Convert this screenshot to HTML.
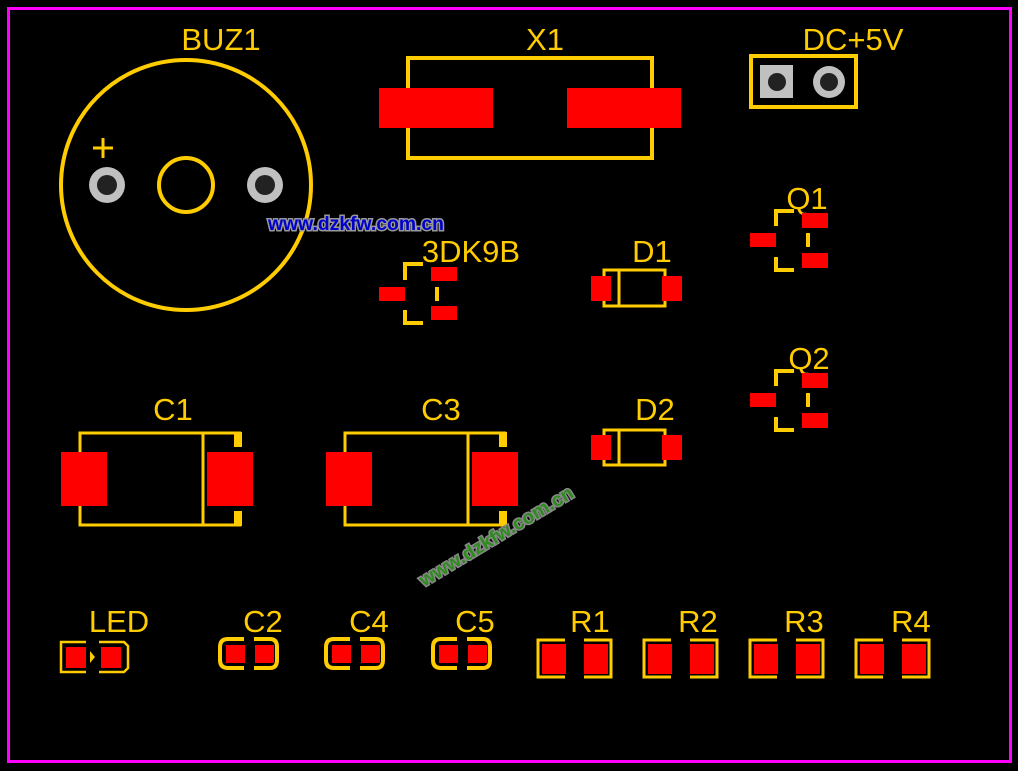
<!DOCTYPE html>
<html><head><meta charset="utf-8"><style>
html,body{margin:0;padding:0;background:#000;width:1018px;height:771px;overflow:hidden}
text{font-family:"Liberation Sans",sans-serif}
</style></head><body>
<svg width="1018" height="771" viewBox="0 0 1018 771" xmlns="http://www.w3.org/2000/svg">
<rect width="1018" height="771" fill="#000"/>
<rect x="8.5" y="8.5" width="1002" height="753" fill="none" stroke="#FF00FF" stroke-width="3"/>
<g fill="#FFCC00" font-size="31">
<text x="221" y="50" text-anchor="middle">BUZ1</text>
<text x="545" y="50" text-anchor="middle">X1</text>
<text x="853" y="50" text-anchor="middle">DC+5V</text>
<text x="807" y="209" text-anchor="middle">Q1</text>
<text x="471" y="262" text-anchor="middle">3DK9B</text>
<text x="652" y="262" text-anchor="middle">D1</text>
<text x="809" y="369" text-anchor="middle">Q2</text>
<text x="173" y="420" text-anchor="middle">C1</text>
<text x="441" y="420" text-anchor="middle">C3</text>
<text x="655" y="420" text-anchor="middle">D2</text>
<text x="119" y="632" text-anchor="middle">LED</text>
<text x="263" y="632" text-anchor="middle">C2</text>
<text x="369" y="632" text-anchor="middle">C4</text>
<text x="475" y="632" text-anchor="middle">C5</text>
<text x="590" y="632" text-anchor="middle">R1</text>
<text x="698" y="632" text-anchor="middle">R2</text>
<text x="804" y="632" text-anchor="middle">R3</text>
<text x="911" y="632" text-anchor="middle">R4</text>
</g>
<g fill="none" stroke="#FFCC00" stroke-width="4">
<circle cx="186" cy="185" r="125"/>
<circle cx="186" cy="185" r="27"/>
<path d="M93 148h20M103 138v20" stroke-width="3"/>
<path d="M408 88V58H652V88M408 128V158H652V128"/>
<rect x="751" y="56" width="105" height="51"/>
<path d="M776 226V211H794M776 257V270H794M808 233V247"/>
<path d="M776 386V371H794M776 417V430H794M808 393V407"/>
<path d="M405 280V264H423M405 310V323H423M437 287V301"/>
<path d="M604 276V270H665V276M604 301V306H665V301M619 270V306" stroke-width="3"/>
<path d="M604 435V430H665V435M604 460V465H665V460M619 430V465" stroke-width="3"/>
<path d="M80 452V433H241M80 506V525H241M203 433V525" stroke-width="3"/>
<path d="M345 452V433H506M345 506V525H506M468 433V525" stroke-width="3"/>
<path d="M86 642H61V672H86M99 642H124L128 646V668L124 672H99" stroke-width="2.5"/>
<path d="M244 639H228Q220 639 220 647V660Q220 668 228 668H244M254 639H270Q277 639 277 647V660Q277 668 270 668H254" stroke-width="4"/>
<path d="M350 639H334Q326 639 326 647V660Q326 668 334 668H350M360 639H376Q383 639 383 647V660Q383 668 376 668H360" stroke-width="4"/>
<path d="M457 639H441Q433 639 433 647V660Q433 668 441 668H457M467 639H483Q490 639 490 647V660Q490 668 483 668H467" stroke-width="4"/>
<path d="M565 640H538V677H565M584 640H611V677H584" stroke-width="3"/>
<path d="M671 640H644V677H671M690 640H717V677H690" stroke-width="3"/>
<path d="M777 640H750V677H777M796 640H823V677H796" stroke-width="3"/>
<path d="M883 640H856V677H883M902 640H929V677H902" stroke-width="3"/>
</g>
<g fill="#FFCC00">
<rect x="234" y="432" width="8" height="15"/><rect x="234" y="511" width="8" height="15"/>
<rect x="499" y="432" width="8" height="15"/><rect x="499" y="511" width="8" height="15"/>
<path d="M90 651L95 657L90 663Z"/>
</g>
<g fill="#FF0000">
<rect x="379" y="88" width="114" height="40"/><rect x="567" y="88" width="114" height="40"/>
<rect x="750" y="233" width="26" height="14"/><rect x="802" y="213" width="26" height="15"/><rect x="802" y="253" width="26" height="15"/>
<rect x="750" y="393" width="26" height="14"/><rect x="802" y="373" width="26" height="15"/><rect x="802" y="413" width="26" height="15"/>
<rect x="379" y="287" width="26" height="14"/><rect x="431" y="267" width="26" height="14"/><rect x="431" y="306" width="26" height="14"/>
<rect x="591" y="276" width="20" height="25"/><rect x="662" y="276" width="20" height="25"/>
<rect x="591" y="435" width="20" height="25"/><rect x="662" y="435" width="20" height="25"/>
<rect x="61" y="452" width="46" height="54"/><rect x="207" y="452" width="46" height="54"/>
<rect x="326" y="452" width="46" height="54"/><rect x="472" y="452" width="46" height="54"/>
<rect x="66" y="647" width="20" height="21"/><rect x="101" y="647" width="20" height="21"/>
<rect x="226" y="645" width="19" height="18"/><rect x="255" y="645" width="19" height="18"/>
<rect x="332" y="645" width="19" height="18"/><rect x="361" y="645" width="19" height="18"/>
<rect x="439" y="645" width="19" height="18"/><rect x="468" y="645" width="19" height="18"/>
<rect x="542" y="644" width="24" height="30"/><rect x="584" y="644" width="24" height="30"/>
<rect x="648" y="644" width="24" height="30"/><rect x="690" y="644" width="24" height="30"/>
<rect x="754" y="644" width="24" height="30"/><rect x="796" y="644" width="24" height="30"/>
<rect x="860" y="644" width="24" height="30"/><rect x="902" y="644" width="24" height="30"/>
</g>
<g fill="#C0C0C0">
<circle cx="107" cy="185" r="18"/><circle cx="265" cy="185" r="18"/>
<rect x="760" y="65" width="33" height="33"/><circle cx="829" cy="82" r="16"/>
</g>
<g fill="#222">
<circle cx="107" cy="185" r="10"/><circle cx="265" cy="185" r="10"/>
<circle cx="777" cy="82" r="9"/><circle cx="829" cy="82" r="9"/>
</g>
<text x="356" y="230" text-anchor="middle" font-size="19.5" font-weight="bold" fill="#0000CC" stroke="#999" stroke-width="3" paint-order="stroke" textLength="176" lengthAdjust="spacingAndGlyphs">www.dzkfw.com.cn</text>
<text x="0" y="0" font-size="19" font-weight="bold" fill="#2E8B1E" stroke="#888" stroke-width="3" paint-order="stroke" transform="translate(424,587) rotate(-31)" textLength="176" lengthAdjust="spacingAndGlyphs">www.dzkfw.com.cn</text>
</svg>
</body></html>
